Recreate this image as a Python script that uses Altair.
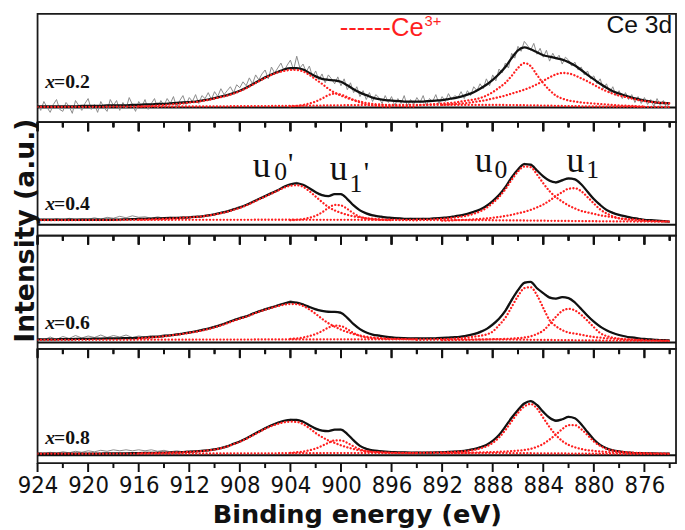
import altair as alt
import pandas as pd

# ---------------- sampling grids (binding energy, eV) ----------------
E_FINE = [round(924 - 0.5 * i, 2) for i in range(101)]    # 924 -> 874, 0.5 eV
E_RAW1 = [round(924 - 0.25 * i, 2) for i in range(201)]   # 924 -> 874, 0.25 eV
E_U0P = [round(916 - 0.5 * i, 1) for i in range(45)]      # 916 -> 894
E_U1P = [round(904 - 0.5 * i, 1) for i in range(17)]      # 904 -> 896
E_U0 = [round(894 - 0.5 * i, 1) for i in range(37)]       # 894 -> 876
E_U1 = [round(892 - 0.5 * i, 1) for i in range(37)]       # 892 -> 874
E_BG = [924, 905, 896, 888, 880, 874]
MAJOR_TICKS = list(range(876, 925, 4))
MINOR_TICKS = list(range(874, 925, 4))

PANEL_NAMES = ["=0.2", "=0.4", "=0.6", "=0.8"]

FIT_1 = [1, 1, 1, 1, 1, 1, 1, 1.5, 1.5, 1.5,
         1.5, 2, 2, 2, 2, 2.5, 2.5, 3, 3, 3.5,
         3.5, 4, 4.5, 5, 5.5, 6, 7, 8, 9.5, 11,
         12.5, 14.5, 17, 20, 23.5, 27, 30.5, 33.5, 36, 38.5,
         40, 40, 38.5, 35, 31.5, 29, 28, 27.5, 26, 22.5,
         18.5, 15, 12.5, 10, 8.5, 7.5, 7, 6.5, 6, 6,
         6, 6, 6.5, 7, 7.5, 8.5, 9.5, 11, 13, 15.5,
         19, 23, 28, 34, 41, 50, 58, 61, 59, 56,
         53, 51.5, 50, 48.5, 46, 42.5, 38, 33, 28.5, 24,
         20, 16.5, 14, 12, 10, 8.5, 7, 6, 5, 4.5,
         4]
RAW_1 = [4, -3, 6, 0, -5, 3, 8, -2,
         -4, 5, 1, -6, 7, 2, -3, 4,
         9, -2, 3, -5, 6, 0, -4, 8,
         2, 7, -3, 5, -1, 10, 3, -4,
         6, 1, 8, -2, 4, 9, -1, 7,
         2, 9, 4, 11, 0, 7, 12, 3,
         10, 6, 13, 4, 12, 9, 15, 8,
         16, 11, 19, 13, 17, 21, 15, 23,
         20, 26, 22, 30, 24, 33, 28, 34,
         38, 29, 41, 35, 40, 45, 37, 43,
         48, 38, 52, 40, 44, 36, 42, 31,
         37, 28, 34, 25, 33, 29, 24, 31,
         22, 29, 18, 25, 15, 21, 11, 17,
         8, 15, 6, 13, 10, 4, 12, 5,
         11, 2, 9, 4, 12, 1, 8, 3,
         10, 5, 12, 2, 9, 6, 13, 4,
         11, 6, 14, 8, 12, 10, 16, 9,
         17, 12, 21, 17, 24, 19, 29, 22,
         33, 27, 39, 35, 45, 40, 55, 50,
         62, 57, 67, 63, 58, 65, 54, 60,
         51, 58, 47, 55, 49, 53, 44, 51,
         48, 42, 46, 38, 41, 33, 37, 29,
         32, 24, 29, 19, 24, 15, 21, 12,
         17, 9, 15, 8, 13, 5, 11, 4,
         10, 3, 8, 1, 9, 2, 7, 0,
         5]
U0P_1 = [1, 1.2, 1.5, 2, 2.5, 3, 3.5, 4, 5, 5.5,
         6.5, 7.5, 9, 10.5, 12, 14, 16.5, 19.5, 23, 26.5,
         30, 33, 35.5, 37, 38, 38, 36.5, 33, 28.5, 24,
         19, 15, 12, 9.5, 7.5, 6, 4.5, 3.5, 3, 2.5,
         2, 1.5, 1.2, 1, 0.8]
U1P_1 = [1, 1.5, 2.5, 4, 6, 9, 12.5, 14, 13, 10.5, 7.5, 5, 3, 2, 1.5, 1, 0.8]
U0_1 = [2, 2.5, 3, 3.5, 4, 4.5, 5, 6, 7, 8,
        9.5, 12, 15.5, 20, 25, 32, 40, 45, 42, 33,
        24.5, 17.5, 12, 9, 7, 6, 5, 4.5, 4, 3.5,
        3, 2.5, 2, 1.8, 1.5, 1.2, 1]
U1_1 = [2.5, 3, 3.5, 4, 4.5, 5.5, 6.5, 7.5, 9, 10.5,
        12, 14, 16, 18, 20.5, 23.5, 27, 30.5, 33.5, 35,
        34.5, 32.5, 29.5, 26.5, 23, 19.5, 16.5, 14, 12, 10.5,
        9, 7.5, 6.5, 5.5, 5, 4.5, 4]
BG_1 = [0.5, 1.5, 2.5, 2.5, 1, 0.5]

FIT_2 = [5, 5, 5, 5, 5, 5, 5, 5, 5, 5,
         5, 5, 5, 5.2, 5.4, 5.6, 5.8, 6, 6.2, 6.4,
         6.6, 6.8, 7, 7.2, 7.5, 8, 8.5, 9.5, 10.5, 12,
         13.5, 15.5, 17.5, 20, 23, 26, 29, 32, 35, 38.5,
         41, 42, 40.5, 37, 33, 30, 29, 31, 31, 26,
         19.5, 14.5, 11.5, 9.5, 8.5, 7.5, 7, 6.5, 6, 6,
         6, 6, 6, 6.5, 7, 7.5, 8.5, 9.5, 11, 13,
         15.5, 19, 24, 30, 38, 48, 56, 61.5, 61, 55,
         49, 44.5, 43, 45, 47, 46, 41, 33.5, 26, 20,
         15, 12, 10, 8.5, 7, 6, 5, 4.5, 4, 3.5,
         3]
RAW_2 = [3.5, 5.5, 4, 6, 4.5, 6.5, 5, 6, 5.5, 7,
         5.5, 7.5, 6.5, 8.5, 7, 9, 7.5, 8, 6.5, 8,
         6.5, 7.5, 6.5, 8, 7, 8.5, 8, 10, 10, 12.5,
         13, 16, 17, 20.5, 22.5, 26.5, 28.5, 32.5, 34.5, 39,
         40.5, 43, 40, 37.5, 32.5, 30.5, 28.5, 31.5, 30.5, 26.5,
         19, 15, 11, 10, 8, 8, 6.5, 7, 5.5, 6.5,
         5.5, 6.5, 5.5, 7, 6.5, 8, 8, 10, 10.5, 13.5,
         15, 19.5, 23.5, 31, 37, 49, 55, 62.5, 60, 56,
         48, 45.5, 42, 46, 46, 47, 40, 34.5, 25, 21,
         14, 12.5, 9.5, 9, 6.5, 6.5, 4.5, 5, 3.5, 4,
         2.5]
U0P_2 = [5, 5.2, 5.4, 5.6, 5.9, 6.2, 6.5, 7, 7.4, 7.8,
         8.3, 9.2, 10.2, 11.6, 13, 15, 17, 19.5, 22.5, 25.5,
         28.5, 31.5, 34.5, 37.5, 39.5, 40, 38.5, 34, 28.5, 23,
         18, 14.5, 12, 10, 8.5, 7.5, 6.5, 6, 5.5, 5.2,
         5, 4.8, 4.6, 4.5, 4.4]
U1P_2 = [4.5, 5, 5.8, 7, 9, 12.5, 17, 20, 19.5, 16, 11.5, 8, 6.5, 5.5, 5, 4.7, 4.5]
U0_2 = [5, 5, 5.2, 5.5, 6, 6.5, 7.2, 8, 9.2, 11,
        13.5, 17, 22, 28, 36, 45.5, 54, 59, 58.5, 51,
        42, 34, 28, 23.5, 19.5, 16.5, 14, 12.5, 11, 9.5,
        8.5, 7.5, 6.5, 6, 5.5, 5, 4.5]
U1_2 = [4, 4.2, 4.5, 4.8, 5, 5.4, 5.8, 6.3, 7, 7.8,
        8.8, 10, 11.5, 13, 15, 17.5, 20.5, 24.5, 29, 33,
        36.5, 37, 34, 28, 21.5, 15.5, 11.5, 8.5, 6.5, 5.5,
        4.8, 4.3, 4, 3.7, 3.5, 3.3, 3.2]
BG_2 = [4.5, 5, 4.8, 4.5, 3.5, 3]

FIT_3 = [3, 3, 3, 3.2, 3.3, 3.4, 3.5, 3.6, 3.7, 3.8,
         3.9, 4, 4.1, 4.2, 4.3, 4.4, 4.6, 5, 5.3, 5.8,
         6.5, 7.2, 8, 9, 10, 11.2, 12.5, 14, 15.7, 17.8,
         20, 22.5, 24.5, 26.5, 29, 31.5, 33.5, 35.5, 37.5, 39.5,
         41, 40.5, 38.5, 36, 33.5, 32, 31, 31, 30, 25,
         18.5, 13.5, 10, 8, 6.8, 5.8, 5, 4.6, 4.3, 4.1,
         4, 4, 4, 4.2, 4.5, 4.9, 5.3, 6, 7, 8.5,
         10.5, 13.5, 18, 24, 32, 43, 53, 60.5, 61.5, 55,
         50, 45.5, 44.5, 46, 45, 40.5, 34, 27, 21, 16,
         12.3, 9.5, 7.5, 6, 5, 4.2, 3.5, 3, 2.5, 2.2,
         2]
RAW_3 = [4.5, 2.5, 5.5, 3, 6, 4, 7, 4.5, 6.5, 5,
         7.5, 5, 7, 5.5, 7.5, 5, 6.5, 5.5, 7, 6,
         8, 7, 9, 9, 11, 11, 13.5, 14, 16.5, 17.5,
         21, 22, 25.5, 26, 30, 31, 34.5, 35, 38.5, 39,
         42.5, 40, 39.5, 35.5, 34.5, 31.5, 32, 30.5, 31, 24.5,
         19, 13, 10.5, 7.5, 7.5, 5.5, 5.5, 4.5, 5, 4,
         4.5, 3.5, 4.5, 4, 5, 4.5, 6, 6, 7.5, 8.5,
         11.5, 14, 19.5, 24.5, 33, 44.5, 52.5, 61.5, 61, 55.5,
         49.5, 46.5, 44, 46.5, 44.5, 41.5, 33.5, 28, 20.5, 17,
         12, 10, 7, 6.5, 4.5, 4.5, 3, 3.5, 2, 2.5,
         1.5]
U0P_3 = [4.3, 4.6, 5, 5.5, 6.2, 7, 7.8, 8.7, 9.7, 10.8,
         12, 13.5, 15.2, 17.2, 19.4, 21.8, 24, 26, 28.5, 31,
         33, 35, 36.8, 38.3, 39, 38.8, 37, 33.5, 29, 24,
         19.5, 16, 13, 10.5, 8.5, 7, 5.8, 5, 4.4, 4,
         3.7, 3.5, 3.3, 3.1, 3]
U1P_3 = [3.5, 4, 5, 6.5, 8.5, 11.5, 15, 17, 16.5, 13.5, 9.5, 6.5, 5, 4.2, 3.8, 3.5, 3.3]
U0_3 = [2.5, 2.6, 2.7, 2.9, 3.1, 3.4, 3.8, 4.3, 5, 5.8,
        6.7, 8, 11, 17.5, 25, 36, 47, 55, 56, 48,
        35, 22.5, 16.5, 12.5, 10, 9, 7.8, 6.5, 5.5, 4.8,
        4.2, 3.8, 3.4, 3.1, 2.8, 2.6, 2.4]
U1_3 = [2.2, 2.3, 2.4, 2.5, 2.6, 2.7, 2.8, 3, 3.2, 3.4,
        3.6, 3.9, 4.3, 5, 6.2, 8.5, 12, 18.5, 26, 32,
        34, 32.5, 28, 22, 15.5, 9.5, 6.5, 4.8, 3.8, 3.2,
        2.8, 2.5, 2.3, 2.1, 2, 1.9, 1.8]
BG_3 = [2.5, 3, 3.2, 3, 2, 1.5]

FIT_4 = [1.5, 1.5, 1.5, 1.5, 1.5, 1.5, 1.5, 1.6, 1.6, 1.7,
         1.7, 1.8, 1.8, 1.9, 2, 2.1, 2.2, 2.3, 2.4, 2.5,
         2.6, 2.8, 3, 3.2, 3.5, 3.8, 4.3, 5, 6, 7.3,
         9, 11.5, 14, 17, 20.5, 24, 27.5, 30.5, 33, 35,
         36, 36, 34, 30.5, 27, 25, 24.5, 26, 26, 21.5,
         15, 9.5, 6.5, 5, 4.2, 3.6, 3.2, 3, 2.8, 2.7,
         2.6, 2.6, 2.7, 2.8, 3, 3.3, 3.7, 4.2, 5, 6.2,
         8, 10.5, 14.5, 20.5, 29, 38, 46, 52.5, 55, 51,
         44, 38, 35, 36.5, 39, 37.5, 31.5, 23.5, 16, 10.5,
         7, 5, 3.8, 3, 2.5, 2.2, 2, 1.8, 1.7, 1.6,
         1.5]
RAW_4 = [2.5, 1.5, 3, 2, 3.5, 2.5, 4, 3, 4.5, 3.5,
         5, 4, 5.5, 4.5, 5.5, 4.5, 5.5, 4.5, 5.5, 4,
         5, 3.5, 4.5, 3.5, 4.5, 4, 5, 5.5, 6.5, 7.5,
         9.5, 11.5, 14.5, 17, 21, 24, 28, 30.5, 33.5, 35,
         36.5, 36, 34.5, 30.5, 27.5, 25, 25, 26, 26.5, 21.5,
         15.5, 9.5, 7, 5, 4.7, 3.6, 3.7, 3, 3.3, 2.7,
         3.1, 2.6, 3.2, 2.8, 3.5, 3.3, 4.2, 4.2, 5.5, 6.2,
         8.5, 10.5, 15, 20.5, 29.5, 38, 46.5, 52.5, 55.5, 51,
         44.5, 38, 35.5, 36.5, 39.5, 37.5, 32, 23.5, 16.5, 10.5,
         7.5, 5, 4.3, 3, 3, 2.2, 2.5, 1.8, 2.2, 1.6,
         2]
U0P_4 = [2, 2.1, 2.2, 2.3, 2.5, 2.7, 2.9, 3.1, 3.4, 3.7,
         4.2, 4.9, 5.8, 7.1, 8.8, 11.2, 13.7, 16.6, 20, 23.4,
         26.8, 29.6, 31.8, 33.4, 34, 33.8, 31.5, 27.5, 22.5, 18.5,
         15, 12.5, 10, 8, 6.3, 5, 4, 3.4, 3, 2.7,
         2.5, 2.3, 2.2, 2.1, 2]
U1P_4 = [2.5, 3, 3.8, 5, 6.8, 9.5, 12.5, 15, 15, 12.5, 9, 6, 4.3, 3.4, 2.9, 2.6, 2.4]
U0_4 = [2.4, 2.5, 2.6, 2.7, 2.9, 3.1, 3.4, 3.8, 4.4, 5.3,
        6.8, 9, 12.5, 18, 25.5, 34.5, 43, 49.5, 52, 47.5,
        38, 28.5, 20.5, 14.5, 10.5, 8, 6.3, 5.2, 4.4, 3.8,
        3.3, 3, 2.7, 2.5, 2.3, 2.1, 2]
U1_4 = [2, 2.1, 2.2, 2.3, 2.4, 2.6, 2.8, 3, 3.2, 3.5,
        3.8, 4.2, 4.7, 5.3, 6.5, 8.5, 11.5, 16, 21, 26.5,
        30.5, 30.5, 26.5, 20.5, 14, 9.5, 6.5, 4.8, 3.8, 3.1,
        2.7, 2.4, 2.2, 2, 1.9, 1.8, 1.7]
BG_4 = [1.5, 2, 2.3, 2.2, 1.6, 1.4]

FITS = [FIT_1, FIT_2, FIT_3, FIT_4]
RAWS = [RAW_1, RAW_2, RAW_3, RAW_4]
RAW_E = [E_RAW1, E_FINE, E_FINE, E_FINE]
COMPS = [
    [U0P_1, U1P_1, U0_1, U1_1],
    [U0P_2, U1P_2, U0_2, U1_2],
    [U0P_3, U1P_3, U0_3, U1_3],
    [U0P_4, U1P_4, U0_4, U1_4],
]
COMP_E = [E_U0P, E_U1P, E_U0, E_U1]
COMP_NAMES = ["u0'", "u1'", "u0", "u1"]
BGS = [BG_1, BG_2, BG_3, BG_4]

PEAK_TEXT = ["u", "0", "'", "u", "1", "'", "u", "0", "u", "1"]
PEAK_E = [906.98, 905.27, 904.2, 900.89, 899.33, 898.2, 889.42, 887.86, 882.16, 880.6]
PEAK_I = [48.3, 45, 52, 45, 33.3, 43, 53.7, 47, 53.7, 47]
PEAK_FS = [36, 26, 30, 36, 26, 30, 36, 26, 36, 26]

PANEL_H = [110, 115, 115, 116]
Y_LO = [-15, -11, -6.5, -8]
LABEL_I = [20, 15, 13.5, 11]
MAJOR_LEN = 9
MINOR_LEN = 5

RED = "#ff1f1f"
INK = "#111111"
SANS = "Liberation Sans, Arial, sans-serif"
NARROW = "Liberation Sans Narrow, Arial Narrow, DejaVu Sans Condensed, sans-serif"
SERIF = "Liberation Serif, Times New Roman, serif"
TITLE_FONT = "DejaVu Sans, Verdana, sans-serif"


def curve(E, vals, name):
    return pd.DataFrame([{"E": e, "I": v, "s": name} for e, v in zip(E, vals)])


def tick_rules(X, y0):
    """Major and minor ticks hanging down from pixel row y0 of the panel."""
    maj = pd.DataFrame({"E": MAJOR_TICKS})
    mnr = pd.DataFrame({"E": MINOR_TICKS})
    return [
        alt.Chart(maj).mark_rule(color=INK, strokeWidth=2).encode(
            x=X, y=alt.value(y0), y2=alt.value(y0 + MAJOR_LEN)),
        alt.Chart(mnr).mark_rule(color=INK, strokeWidth=2).encode(
            x=X, y=alt.value(y0), y2=alt.value(y0 + MINOR_LEN)),
    ]


def make_panel(k):
    last = k == 3
    if last:
        axis = alt.Axis(
            values=MAJOR_TICKS, grid=False, domain=False, ticks=False,
            title="Binding energy (eV)", labels=True,
            labelFont=NARROW, labelFontSize=24, labelColor=INK,
            labelPadding=11, labelFlush=False, labelOverlap=False, labelBound=False,
            titleFont=TITLE_FONT, titleFontSize=26, titleFontWeight="bold",
            titleColor=INK, titlePadding=4,
        )
    else:
        axis = None
    X = alt.X("E:Q", scale=alt.Scale(domain=[873.5, 924], reverse=True, nice=False, zero=False), axis=axis)
    lo = Y_LO[k]
    hi = Y_LO[k] + PANEL_H[k]
    Y = alt.Y("I:Q", scale=alt.Scale(domain=[lo, hi], nice=False, zero=False), axis=None)

    raw = curve(RAW_E[k], RAWS[k], "raw")
    fit = curve(E_FINE, FITS[k], "fit")
    comps = pd.concat([curve(COMP_E[j], COMPS[k][j], COMP_NAMES[j]) for j in range(4)], ignore_index=True)
    bg = curve(E_BG, BGS[k], "bg")

    base = alt.Chart(pd.DataFrame({"E": [924, 873.5], "I": [0, 0]})).mark_line(
        color=INK, strokeWidth=2, clip=True).encode(x=X, y=Y)
    raw_l = alt.Chart(raw).mark_line(color="#8a8a8a", strokeWidth=1, clip=True).encode(x=X, y=Y)
    dots = dict(color=RED, strokeWidth=2.3, strokeDash=[0.1, 3.4], strokeCap="round", clip=True)
    bg_l = alt.Chart(bg).mark_line(interpolate="monotone", **dots).encode(x=X, y=Y)
    fit_l = alt.Chart(fit).mark_line(color=INK, strokeWidth=2.3, interpolate="monotone", clip=True).encode(x=X, y=Y)
    comp_l = alt.Chart(comps).mark_line(interpolate="monotone", **dots).encode(x=X, y=Y, detail="s:N")

    lab = pd.DataFrame({"E": [923.4], "I": [LABEL_I[k]], "t": [PANEL_NAMES[k]]})
    lab_x = alt.Chart(lab).mark_text(
        text="x", font=SERIF, fontSize=20, fontStyle="italic", fontWeight="bold",
        align="left", baseline="alphabetic", color=INK).encode(x=X, y=Y)
    lab_v = alt.Chart(lab).mark_text(
        font=SERIF, fontSize=20, fontWeight="bold", align="left", baseline="alphabetic",
        dx=9, color=INK).encode(x=X, y=Y, text="t:N")

    layers = [base, raw_l, fit_l, bg_l, comp_l, lab_x, lab_v]

    if k == 0:
        ce = pd.DataFrame({"E": [873.8], "I": [76], "t": ["Ce 3d"]})
        layers.append(alt.Chart(ce).mark_text(
            font=SANS, fontSize=25, align="right", baseline="alphabetic", color=INK
        ).encode(x=X, y=Y, text="t:N"))
        leg = pd.DataFrame({"E": [900.1], "I": [73], "t": ["------Ce"]})
        layers.append(alt.Chart(leg).mark_text(
            font=SANS, fontSize=26, align="left", baseline="alphabetic", color=RED
        ).encode(x=X, y=Y, text="t:N"))
        sup = pd.DataFrame({"E": [893.4], "I": [83], "t": ["3+"]})
        layers.append(alt.Chart(sup).mark_text(
            font=SANS, fontSize=15, align="left", baseline="alphabetic", color=RED
        ).encode(x=X, y=Y, text="t:N"))
    if k == 1:
        pk = pd.DataFrame({"E": PEAK_E, "I": PEAK_I, "t": PEAK_TEXT, "fs": PEAK_FS})
        layers.append(alt.Chart(pk).mark_text(
            font=SERIF, align="left", baseline="alphabetic", color=INK
        ).encode(x=X, y=Y, text="t:N", size=alt.Size("fs:Q", scale=None, legend=None)))
    if k == 2:
        yt = pd.DataFrame({"t": ["Intensity (a.u.)"]})
        layers.append(alt.Chart(yt).mark_text(
            font=TITLE_FONT, fontSize=27, fontWeight="bold", angle=270,
            align="center", baseline="middle", color=INK
        ).encode(x=alt.value(-12), y=alt.value(-5), text="t:N"))

    # ticks: below this panel's lower border (inside the next panel, or
    # outside the frame for the last panel) and at this panel's top border
    layers += tick_rules(X, PANEL_H[k])
    if k > 0:
        layers += tick_rules(X, 0.5)
    # the last panel is drawn last: repeat the inner separators' ticks from it
    if last:
        layers += tick_rules(X, -PANEL_H[2])
        layers += tick_rules(X, -PANEL_H[2] - PANEL_H[1])

    return alt.layer(*layers).properties(width=648, height=PANEL_H[k])


chart = alt.vconcat(
    *[make_panel(k) for k in range(4)], spacing=0, bounds="flush"
).properties(
    padding={"left": 3, "top": 0, "right": 0, "bottom": 0}, background="white"
).configure_view(
    stroke="#1a1a1a", strokeWidth=1.8, fill="transparent"
)

chart.save("out.html", embed_options={"renderer": "svg", "actions": False})
